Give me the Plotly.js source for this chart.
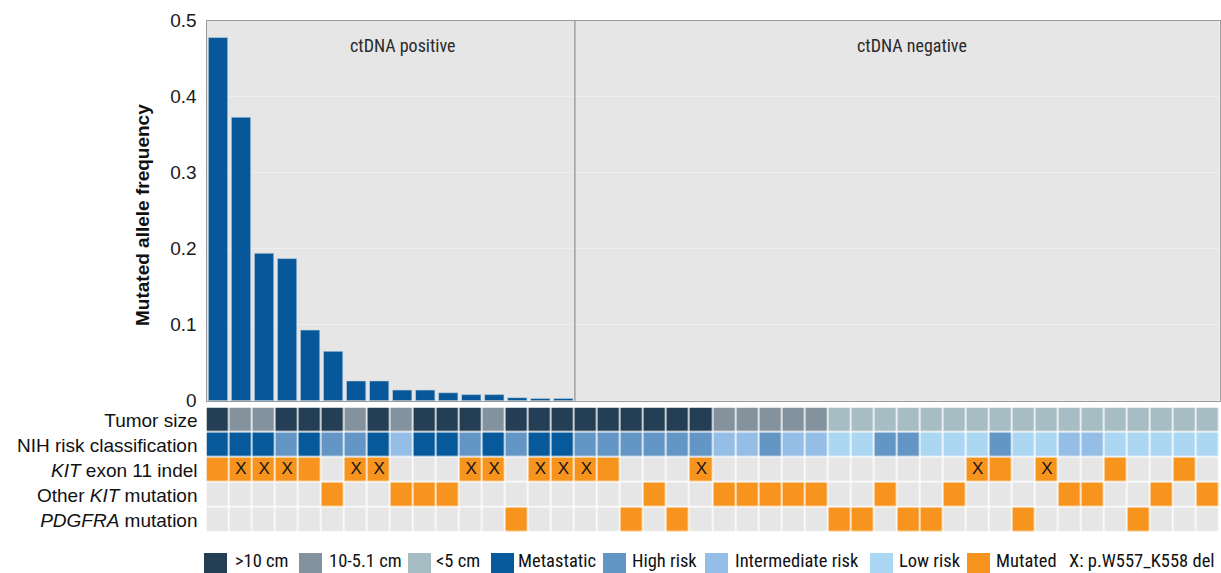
<!DOCTYPE html>
<html><head><meta charset="utf-8">
<script src="https://cdn.plot.ly/plotly-3.0.1.min.js"></script>
<style>html,body{margin:0;padding:0;background:#fff}#chart{width:1221px;height:573px}</style>
</head><body><div id="chart"></div>
<script>
// ---------- data ----------
const patients = [1,2,3,4,5,6,7,8,9,10,11,12,13,14,15,16,17,18,19,20,21,22,23,24,25,26,27,28,29,30,31,32,33,34,35,36,37,38,39,40,41,42,43,44];
const ctdnaPositivePatients = [1,2,3,4,5,6,7,8,9,10,11,12,13,14,15,16];
const mutatedAlleleFrequency = [0.478,0.373,0.194,0.187,0.093,0.065,0.026,0.026,0.014,0.014,0.0105,0.008,0.008,0.004,0.003,0.003];
const groupLabels = ['ctDNA positive','ctDNA negative'];

const tumorSize = ['>10 cm','10-5.1 cm','10-5.1 cm','>10 cm','>10 cm','>10 cm','10-5.1 cm','>10 cm','10-5.1 cm','>10 cm','>10 cm','>10 cm','10-5.1 cm','>10 cm','>10 cm','>10 cm','>10 cm','>10 cm','>10 cm','>10 cm','>10 cm','>10 cm',
  '10-5.1 cm','10-5.1 cm','10-5.1 cm','10-5.1 cm','10-5.1 cm',
  '<5 cm','<5 cm','<5 cm','<5 cm','<5 cm','<5 cm','<5 cm','<5 cm','<5 cm','<5 cm','<5 cm','<5 cm','<5 cm','<5 cm','<5 cm','<5 cm','<5 cm'];
const nihRisk = ['Metastatic','Metastatic','Metastatic','High risk','Metastatic','High risk','High risk','Metastatic','Intermediate risk','Metastatic','Metastatic','High risk','Metastatic','High risk','Metastatic','Metastatic',
  'High risk','High risk','High risk','High risk','High risk','High risk',
  'Intermediate risk','Intermediate risk','High risk','Intermediate risk','Intermediate risk','Low risk','Low risk','High risk','High risk','Low risk','Low risk','Low risk','High risk','Low risk','Low risk','Intermediate risk','Intermediate risk','Low risk','Low risk','Low risk','Low risk','Low risk'];
// 'M' = mutated, 'X' = mutated with p.W557_K558 del, '' = wild type
const kitExon11 = ['M','X','X','X','M','','X','X','','','','X','X','','X','X','X','M','','','','X',
  '','','','','','','','','','','','X','M','','X','','','M','','','M',''];
const otherKit = [0,0,0,0,0,1,0,0,1,1,1,0,0,0,0,0,0,0,0,1,0,0,1,1,1,1,1,0,0,1,0,0,1,0,0,0,0,1,1,0,0,1,0,1];
const pdgfra   = [0,0,0,0,0,0,0,0,0,0,0,0,0,1,0,0,0,0,1,0,1,0,0,0,0,0,0,1,1,0,1,1,0,0,0,1,0,0,0,0,1,0,0,0];

const rowLabels = ['Tumor size','NIH risk classification','<i>KIT</i> exon 11 indel','Other <i>KIT</i> mutation','<i>PDGFRA</i> mutation'];
const yTickValues = [0,0.1,0.2,0.3,0.4,0.5];
const yTickLabels = ['0','0.1','0.2','0.3','0.4','0.5'];
const categories = ['None','>10 cm','10-5.1 cm','<5 cm','Metastatic','High risk','Intermediate risk','Low risk','Mutated'];
const categoryColors = ['#e6e6e6','#243f55','#84929d','#a6bec3','#065a9b','#6395c5','#95bee6','#acd7f3','#f7941e'];
const xNote = 'X: p.W557_K558 del';

// ---------- build ----------
const W = 1221, H = 573;
const px = v => v / W, py = v => 1 - v / H;
const code = s => categories.indexOf(s);
const zRows = [
  tumorSize.map(code),
  nihRisk.map(code),
  kitExon11.map(v => v ? code('Mutated') : 0),
  otherKit.map(v => v ? code('Mutated') : 0),
  pdgfra.map(v => v ? code('Mutated') : 0)
];
const n = categories.length;
const colorscale = [];
categoryColors.forEach((c, i) => { colorscale.push([i / n, c]); colorscale.push([(i + 1) / n, c]); });

const xPatients = patients.filter((p, i) => kitExon11[i] === 'X');

const font = 'Liberation Sans, Arial, sans-serif';
const condensed = 'Liberation Sans Narrow, Arial Narrow, Roboto Condensed, Lato, sans-serif';

const traces = [
  { type: 'bar', x: ctdnaPositivePatients, y: mutatedAlleleFrequency, xaxis: 'x', yaxis: 'y',
    marker: { color: '#06589a', line: { color: '#c9d6e3', width: 0.6 } }, hoverinfo: 'x+y', showlegend: false },
  { type: 'heatmap', x: patients, y: [0,1,2,3,4], z: zRows, xaxis: 'x2', yaxis: 'y2',
    colorscale: colorscale, zmin: -0.5, zmax: n - 0.5, showscale: false, xgap: 1.5, ygap: 1.5, hoverinfo: 'skip' },
  { type: 'scatter', mode: 'text', x: xPatients, y: xPatients.map(() => 2), text: xPatients.map(() => 'X'),
    xaxis: 'x2', yaxis: 'y2', textfont: { family: font, size: 17, color: '#151515' }, hoverinfo: 'skip', showlegend: false }
];

const xDomain = [px(206.5), px(1219.5)];
const shapes = [
  { type: 'rect', xref: 'x domain', yref: 'y domain', x0: 0, x1: 1, y0: 0, y1: 1, fillcolor: '#e6e6e6', line: { width: 0 }, layer: 'below' },
  { type: 'line', xref: 'x', yref: 'y domain', x0: 16.5, x1: 16.5, y0: 0, y1: 1, line: { color: '#a0a0a0', width: 1.5 } }
];
const annotations = [
  { xref: 'paper', yref: 'paper', x: px(402), y: py(45), text: groupLabels[0], showarrow: false, xanchor: 'center', yanchor: 'middle',
    font: { family: condensed, size: 18, color: '#2a2a2a' } },
  { xref: 'paper', yref: 'paper', x: px(912), y: py(45), text: groupLabels[1], showarrow: false, xanchor: 'center', yanchor: 'middle',
    font: { family: condensed, size: 18, color: '#2a2a2a' } },
  { xref: 'paper', yref: 'paper', x: px(143), y: py(215), text: '<b>Mutated allele frequency</b>', textangle: -90, showarrow: false,
    xanchor: 'center', yanchor: 'middle', font: { family: font, size: 19, color: '#111' } }
];

// legend (layout positions in px)
const legendSquareX = [204, 299, 408, 491, 603, 705, 870, 967];
const legendTextX = [233, 327, 434, 516, 630, 733, 897, 994];
categories.slice(1).forEach((lab, i) => {
  shapes.push({ type: 'rect', xref: 'paper', yref: 'paper', x0: px(legendSquareX[i]), x1: px(legendSquareX[i] + 23),
    y0: py(576), y1: py(553), fillcolor: categoryColors[i + 1], line: { width: 0 } });
  annotations.push({ xref: 'paper', yref: 'paper', x: px(legendTextX[i]), y: py(561), text: lab, showarrow: false,
    xanchor: 'left', yanchor: 'middle', font: { family: condensed, size: 18.5, color: '#111' } });
});
annotations.push({ xref: 'paper', yref: 'paper', x: px(1067), y: py(561), text: xNote, showarrow: false,
  xanchor: 'left', yanchor: 'middle', font: { family: condensed, size: 18.5, color: '#111' } });

const layout = {
  width: W, height: H, margin: { l: 0, r: 0, t: 0, b: 0 },
  paper_bgcolor: '#ffffff', plot_bgcolor: 'rgba(0,0,0,0)',
  showlegend: false,
  xaxis: { domain: xDomain, range: [0.5, 44.5], showticklabels: false, showgrid: false, zeroline: false,
    showline: true, mirror: true, linecolor: '#9a9a9a', linewidth: 1, ticks: '', fixedrange: true },
  yaxis: { domain: [py(400.7), py(20.7)], range: [0, 0.5], tickvals: yTickValues, ticktext: yTickLabels,
    tickfont: { family: font, size: 19, color: '#1a1a1a' }, showline: true, mirror: true, linecolor: '#9a9a9a', linewidth: 1,
    showgrid: true, gridcolor: '#efefef', gridwidth: 1, zeroline: false, ticks: '', ticklabelstandoff: 5, fixedrange: true },
  xaxis2: { domain: xDomain, range: [0.5, 44.5], anchor: 'y2', visible: false, fixedrange: true },
  yaxis2: { domain: [py(532.5), py(407.5)], range: [4.5, -0.5], anchor: 'x2', tickvals: [0,1,2,3,4], ticktext: rowLabels,
    tickfont: { family: font, size: 19, color: '#111' }, showgrid: false, zeroline: false, showline: false, ticks: '',
    ticklabelstandoff: 8, fixedrange: true },
  bargap: 0.16,
  shapes: shapes,
  annotations: annotations
};
Plotly.newPlot('chart', traces, layout, { displayModeBar: false, staticPlot: true });
</script>
</body></html>
